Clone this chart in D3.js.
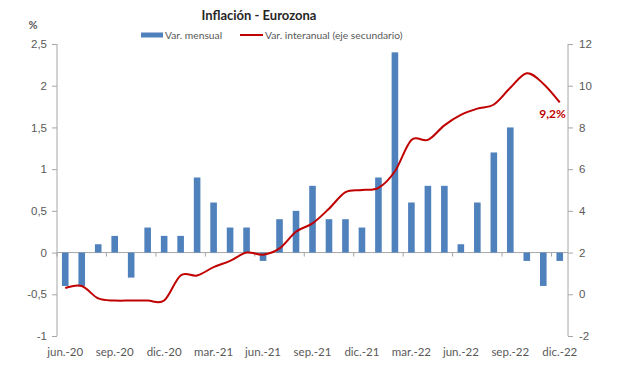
<!DOCTYPE html>
<html><head><meta charset="utf-8">
<script src="https://cdn.jsdelivr.net/npm/d3@7"></script>
<style>body{margin:0;background:#fff;} svg{display:block;font-family:Lato,"Open Sans",sans-serif;}</style>
</head><body>
<svg id="c" width="617" height="377"></svg>
<script>
const months = ["jun.-20","jul.-20","ago.-20","sep.-20","oct.-20","nov.-20","dic.-20","ene.-21","feb.-21","mar.-21","abr.-21","may.-21","jun.-21","jul.-21","ago.-21","sep.-21","oct.-21","nov.-21","dic.-21","ene.-22","feb.-22","mar.-22","abr.-22","may.-22","jun.-22","jul.-22","ago.-22","sep.-22","oct.-22","nov.-22","dic.-22"];
const mensual = [-0.4,-0.4,0.1,0.2,-0.3,0.3,0.2,0.2,0.9,0.6,0.3,0.3,-0.1,0.4,0.5,0.8,0.4,0.4,0.3,0.9,2.4,0.6,0.8,0.8,0.1,0.6,1.2,1.5,-0.1,-0.4,-0.1];
const interanual = [0.3,0.4,-0.2,-0.3,-0.3,-0.3,-0.3,0.9,0.9,1.3,1.6,2.0,1.9,2.2,3.0,3.4,4.1,4.9,5.0,5.1,5.9,7.4,7.4,8.1,8.6,8.9,9.1,9.9,10.6,10.1,9.2];
const leftTicks = [-1,-0.5,0,0.5,1,1.5,2,2.5];
const rightTicks = [-2,0,2,4,6,8,10,12];
const xLabels = ["jun.-20","sep.-20","dic.-20","mar.-21","jun.-21","sep.-21","dic.-21","mar.-22","jun.-22","sep.-22","dic.-22"];
const title = "Inflación - Eurozona";
const seriesNames = ["Var. mensual","Var. interanual (eje secundario)"];

const svg = d3.select("#c");
const L = 57, R = 568, T = 44, B = 336;
const axisCol = "#a6a6a6", txtCol = "#595959";
const barCol = "#4f81bd", lineCol = "#c00000";
const fmt = d => String(d).replace(".", ",");

const x = d3.scaleBand().domain(months).range([L, R]).padding(0);
const yL = d3.scaleLinear().domain([-1, 2.5]).range([B, T]);
const yR = d3.scaleLinear().domain([-2, 12]).range([B, T]);

const gl = svg.append("g").attr("transform", `translate(${L},0)`)
  .call(d3.axisLeft(yL).tickValues(leftTicks).tickSize(5).tickPadding(5).tickFormat(fmt));
const gr = svg.append("g").attr("transform", `translate(${R},0)`)
  .call(d3.axisRight(yR).tickValues(rightTicks).tickSize(5).tickPadding(6).tickFormat(fmt));
[gl, gr].forEach(g => {
  g.select(".domain").attr("stroke", axisCol).attr("d", `M0,${T}V${B}`);
  g.selectAll(".tick line").attr("stroke", axisCol);
  g.selectAll("text").attr("fill", txtCol).attr("font-size", 11.5);
});

const y0 = yL(0);
svg.append("line").attr("x1", L).attr("x2", R).attr("y1", y0).attr("y2", y0).attr("stroke", axisCol);
const bw = x.bandwidth();
const tickIdx = d3.range(0, months.length + 1, 3);
svg.append("g").selectAll("line").data(tickIdx).join("line")
  .attr("x1", i => L + i * bw).attr("x2", i => L + i * bw)
  .attr("y1", y0).attr("y2", y0 + 4).attr("stroke", axisCol);
svg.append("g").selectAll("text").data(xLabels).join("text")
  .attr("x", d => x(d) + bw / 2).attr("y", 356)
  .attr("text-anchor", "middle").attr("fill", txtCol).attr("font-size", 11.5).text(d => d);

const barW = bw * 0.4;
svg.append("g").selectAll("rect").data(mensual).join("rect")
  .attr("x", (d, i) => x(months[i]) + (bw - barW) / 2)
  .attr("width", barW)
  .attr("y", d => yL(Math.max(0, d)))
  .attr("height", d => Math.abs(yL(d) - yL(0)))
  .attr("fill", barCol);

const line = d3.line().x((d, i) => x(months[i]) + bw / 2).y(d => yR(d)).curve(d3.curveCardinal.tension(0));
svg.append("path").datum(interanual).attr("d", line).attr("fill", "none")
  .attr("stroke", lineCol).attr("stroke-width", 2);

const last = interanual.length - 1;
svg.append("text").attr("x", x(months[last]) + bw / 2 + 6).attr("y", yR(interanual[last]) + 16)
  .attr("text-anchor", "end").attr("font-weight", "bold").attr("font-size", 12)
  .attr("fill", lineCol).text(fmt(interanual[last]) + "%");

svg.append("text").attr("x", 259).attr("y", 20).attr("text-anchor", "middle")
  .attr("font-weight", "bold").attr("font-size", 13).attr("fill", "#262626").text(title);
svg.append("text").attr("x", 33).attr("y", 29).attr("text-anchor", "middle")
  .attr("font-size", 11).attr("font-weight", "bold").attr("fill", txtCol).text("%");

const lg = svg.append("g");
lg.append("rect").attr("x", 141).attr("y", 32.5).attr("width", 22).attr("height", 5).attr("fill", barCol);
lg.append("text").attr("x", 165).attr("y", 39).attr("font-size", 10.3).attr("fill", txtCol).text(seriesNames[0]);
lg.append("line").attr("x1", 240).attr("x2", 263).attr("y1", 35).attr("y2", 35).attr("stroke", lineCol).attr("stroke-width", 2);
lg.append("text").attr("x", 265).attr("y", 39).attr("font-size", 10.3).attr("fill", txtCol).text(seriesNames[1]);
</script>
</body></html>
